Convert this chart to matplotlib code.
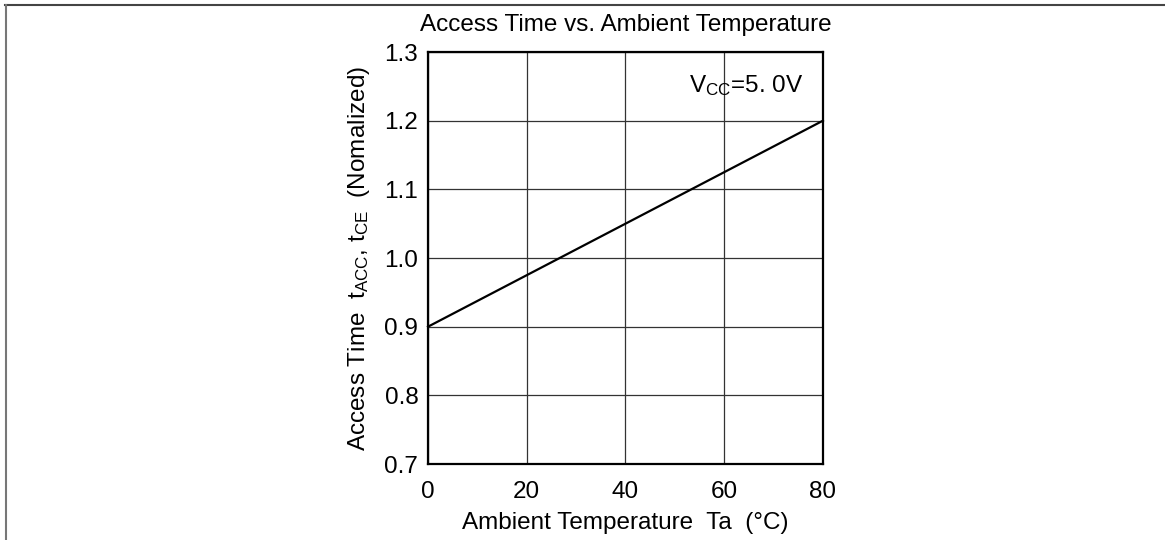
import matplotlib.pyplot as plt
from matplotlib.lines import Line2D

plt.rcParams["font.family"] = ["Liberation Sans", "DejaVu Sans"]
plt.rcParams["mathtext.fontset"] = "custom"
plt.rcParams["mathtext.rm"] = "Liberation Sans"
plt.rcParams["mathtext.it"] = "Liberation Sans"

# data
temperature = [0, 80]
access_time = [0.9, 1.2]
x_ticks = [0, 20, 40, 60, 80]
y_ticks = [0.7, 0.8, 0.9, 1.0, 1.1, 1.2, 1.3]

FS = 17.5

fig = plt.figure(figsize=(11.65, 5.4), dpi=100)
ax = fig.add_axes([0.3674, 0.1407, 0.339, 0.763])

ax.plot(temperature, access_time, color="black", linewidth=1.6, clip_on=False)

ax.set_xlim(0, 80)
ax.set_ylim(0.7, 1.3)
ax.set_xticks(x_ticks)
ax.set_yticks(y_ticks)
ax.set_yticklabels([f"{v:.1f}" for v in y_ticks])
ax.grid(True, color="#333333", linewidth=0.9)
ax.tick_params(axis="both", length=0, labelsize=FS)
ax.tick_params(axis="x", pad=12)
ax.tick_params(axis="y", pad=7)
for sp in ax.spines.values():
    sp.set_linewidth(1.6)
    sp.set_color("black")

ax.set_title("Access Time vs. Ambient Temperature", fontsize=FS, pad=15)
ax.set_xlabel("Ambient Temperature  Ta  (\u00b0C)", fontsize=FS, labelpad=7)
ax.set_ylabel(r"Access Time  $\mathregular{t_{ACC}}$, $\mathregular{t_{CE}}$  (Nomalized)",
              fontsize=FS, labelpad=9)

ax.text(0.95, 0.918, r"$\mathregular{V_{CC}}$=5. 0V", transform=ax.transAxes,
        ha="right", va="center", fontsize=FS)

# frame lines of the datasheet page
fig.add_artist(Line2D([5 / 1165, 1.0], [1 - 5 / 540, 1 - 5 / 540],
                      transform=fig.transFigure, color="#444444", linewidth=1.5))
fig.add_artist(Line2D([5.5 / 1165, 5.5 / 1165], [0.0, 1 - 5 / 540],
                      transform=fig.transFigure, color="#777777", linewidth=1.5))

fig.savefig("out.png", dpi=100)
